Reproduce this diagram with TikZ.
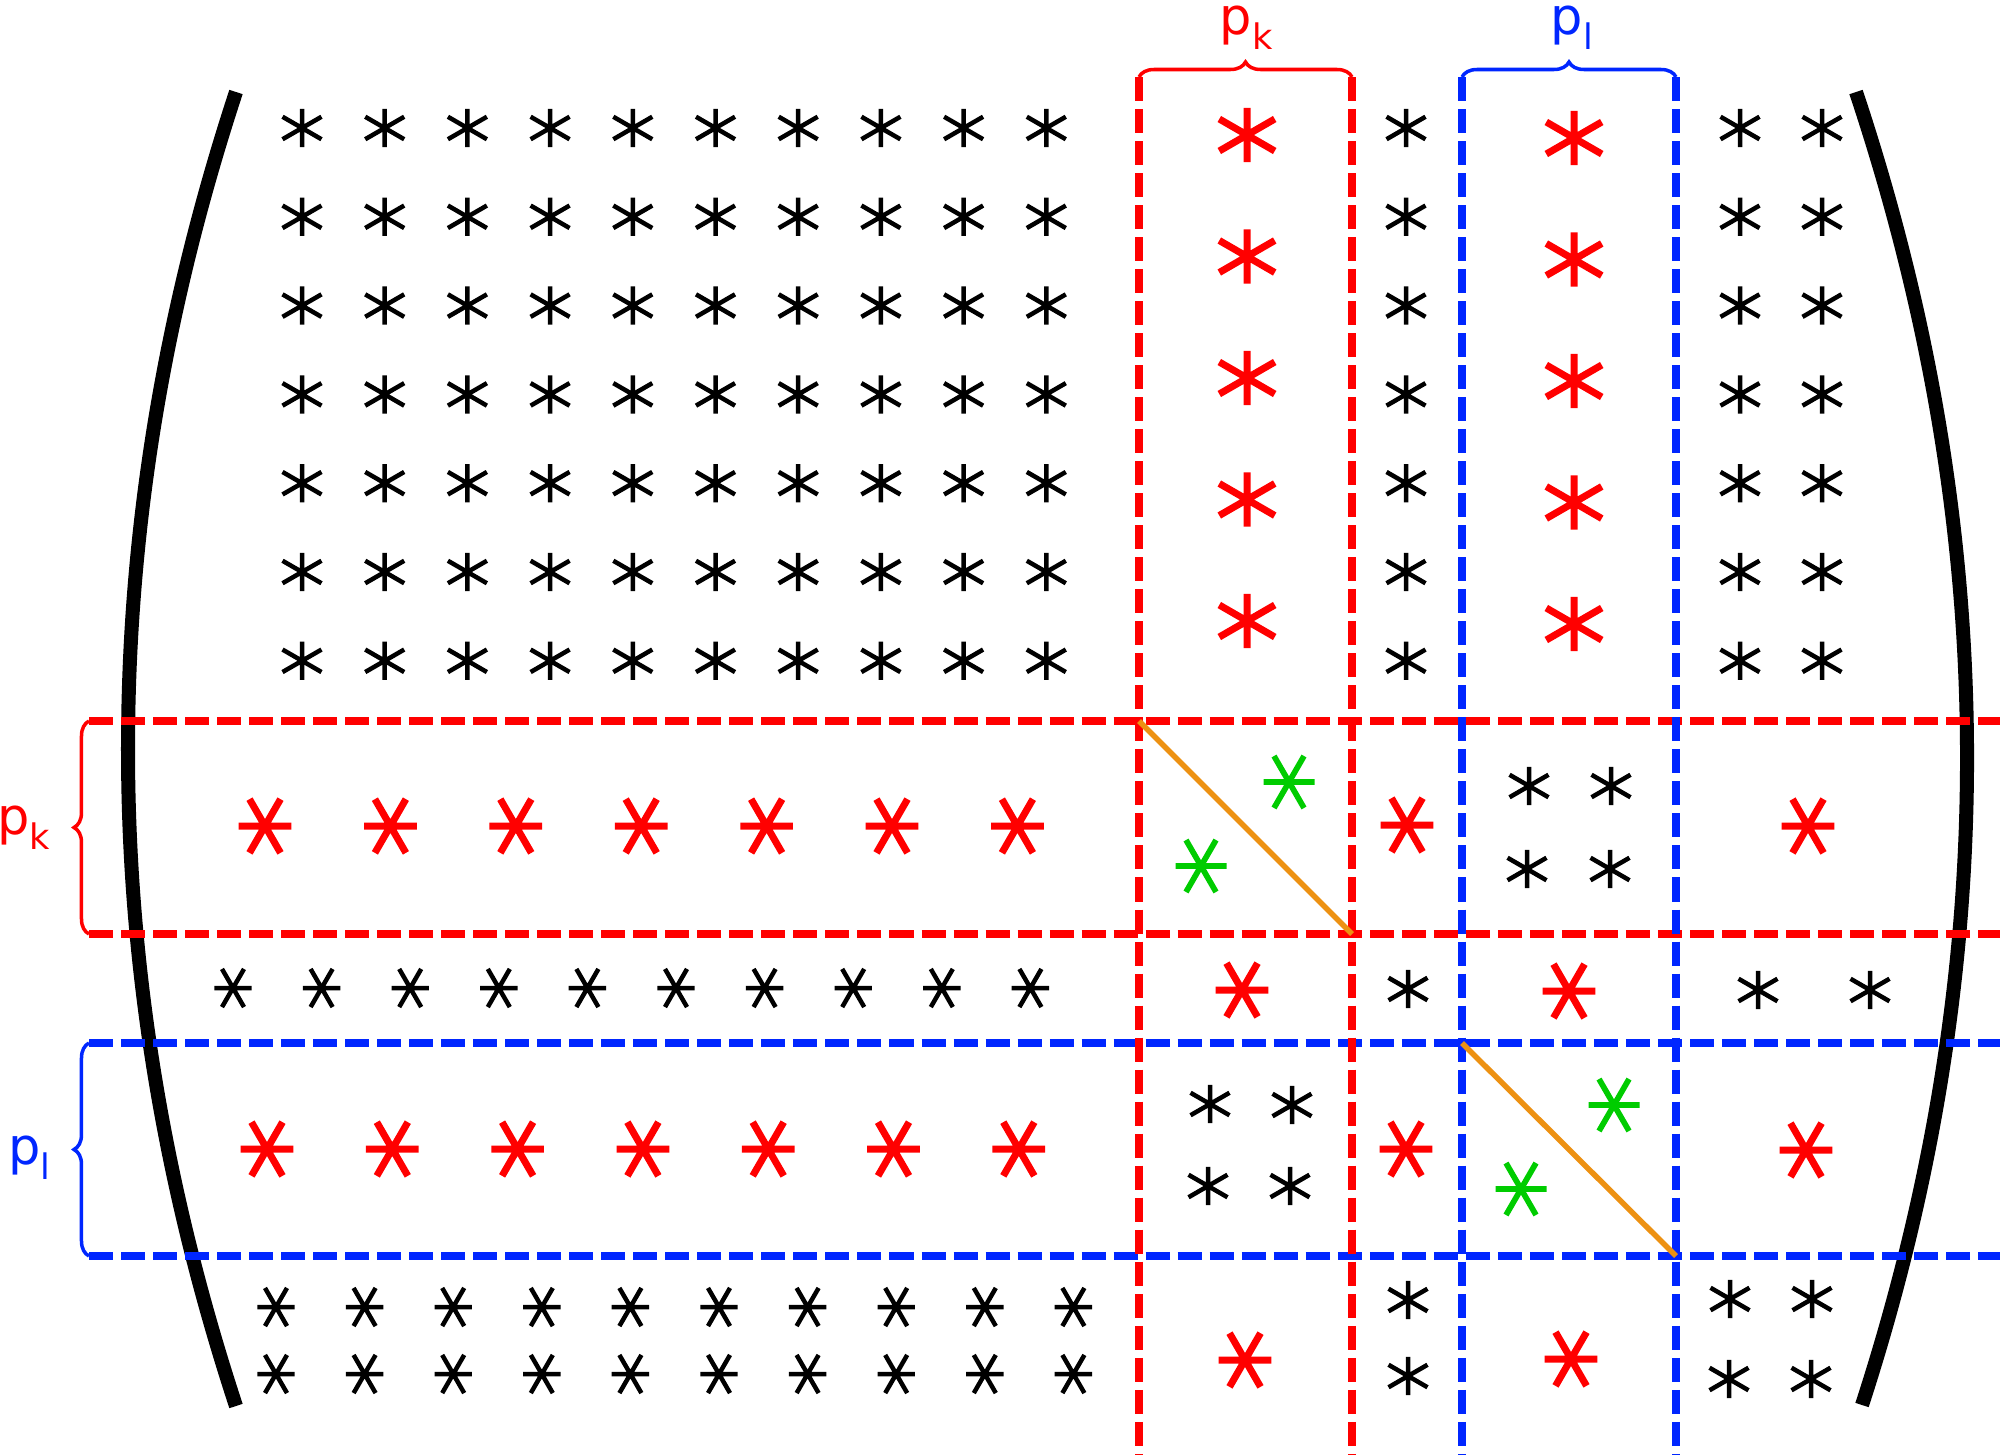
\documentclass[tikz,border=0pt]{standalone}
\usepackage{fontspec}
\setmainfont{DejaVu Sans}
\usetikzlibrary{decorations.pathreplacing}

\definecolor{pkred}{RGB}{255,0,0}
\definecolor{plblue}{RGB}{0,38,255}
\definecolor{pivgreen}{RGB}{0,204,0}
\definecolor{diagorange}{RGB}{237,145,18}

\newcommand{\lowsub}[1]{\raisebox{-0.3em}{\fontsize{10}{12}\selectfont #1}}

\tikzset{
  pics/ast/.style={code={
    \draw[pic actions] (90:{0.85*#1}) -- (270:{0.85*#1})
      (30:#1) -- (210:#1) (150:#1) -- (330:#1);
  }},
  blk/.style={black, line width=0.045cm},
  rd/.style={pkred, line width=0.07cm},
  grn/.style={pivgreen, line width=0.057cm},
  flat/.style={rotate=90},
  redline/.style={pkred, line width=0.075cm, dash pattern=on 0.24cm off 0.08cm},
  blueline/.style={plblue, line width=0.075cm, dash pattern=on 0.24cm off 0.08cm},
  bracket/.style={line width=0.14cm},
  diagline/.style={diagorange, line width=0.055cm},
  redbrace/.style={pkred, line width=0.035cm, decorate, decoration={brace, amplitude=0.15cm}},
  bluebrace/.style={plblue, line width=0.035cm, decorate, decoration={brace, amplitude=0.15cm}},
  lab/.style={inner sep=0pt, font=\fontsize{14.5}{17}\selectfont},
}

\begin{document}
\begin{tikzpicture}[x=0.01cm, y=-0.01cm]
    \useasboundingbox (0,0) rectangle (2000,1454);

    % Pivot blocks and line ends
    \coordinate (pk-nw) at (1139,721);
    \coordinate (pk-se) at (1352,934);
    \coordinate (pl-nw) at (1462,1043);
    \coordinate (pl-se) at (1676,1256);
    \coordinate (edge-t) at (0,77);
    \coordinate (edge-b) at (0,1454);
    \coordinate (edge-l) at (89,0);
    \coordinate (edge-r) at (2000,0);

    % Matrix brackets
    \draw[bracket] (236,92) .. controls (92,530) and (92,968) .. (236,1406);
    \draw[bracket] (1856,92) .. controls (2002,530) and (2004,968) .. (1862,1405);

    % Pivot rows and columns
    \draw[redline] (edge-l |- pk-nw) -- (edge-r |- pk-nw);
    \draw[redline] (edge-l |- pk-se) -- (edge-r |- pk-se);
    \draw[blueline] (edge-l |- pl-nw) -- (edge-r |- pl-nw);
    \draw[blueline] (edge-l |- pl-se) -- (edge-r |- pl-se);
    \draw[redline] (pk-nw |- edge-t) -- (pk-nw |- edge-b);
    \draw[redline] (pk-se |- edge-t) -- (pk-se |- edge-b);
    \draw[blueline] (pl-nw |- edge-t) -- (pl-nw |- edge-b);
    \draw[blueline] (pl-se |- edge-t) -- (pl-se |- edge-b);

    % Diagonals
    \draw[diagline] (pk-nw) -- (pk-se);
    \draw[diagline] (pl-nw) -- (pl-se);

    % Braces and labels
    \draw[redbrace] (pk-nw |- edge-t) -- (pk-se |- edge-t);
    \draw[bluebrace] (pl-nw |- edge-t) -- (pl-se |- edge-t);
    \draw[redbrace] (edge-l |- pk-se) -- (edge-l |- pk-nw);
    \draw[bluebrace] (edge-l |- pl-se) -- (edge-l |- pl-nw);
    \node[lab, pkred, anchor=base] (pk-top) at (1246,34) {p\lowsub{k}};
    \node[lab, plblue, anchor=base] (pl-top) at (1572,34) {p\lowsub{l}};
    \node[lab, pkred, anchor=base east] (pk-left) at (51,834) {p\lowsub{k}};
    \node[lab, plblue, anchor=base east] (pl-left) at (51,1164) {p\lowsub{l}};

    % Upper rows
    \foreach \j in {0,...,6} {
        \foreach \i in {0,...,9}
            \pic[blk] at ({302+82.7*\i},{128+88.8*\j}) {ast=22.5};
        \pic[blk] at (1406,{128+88.8*\j}) {ast=22.5};
        \pic[blk] at (1740,{128+88.8*\j}) {ast=22.5};
        \pic[blk] at (1822,{128+88.8*\j}) {ast=22.5};
    }
    \foreach \j in {0,...,4} {
        \pic[rd] at (1247,{135+121.5*\j}) {ast=32};
        \pic[rd] at (1574,{138+121.5*\j}) {ast=32};
    }

    % Pivot row k
    \foreach \i in {0,...,6}
        \pic[rd, flat] at ({265+125.4*\i},826) {ast=31};
    \pic[grn, flat] at (1289,782) {ast=30};
    \pic[grn, flat] at (1201,866) {ast=30};
    \pic[rd, flat] at (1407,825) {ast=31};
    \foreach \x/\y in {1529/786, 1611/786, 1527/869, 1610/869}
        \pic[blk] at (\x,\y) {ast=22.5};
    \pic[rd, flat] at (1808,826) {ast=31};

    % Middle row
    \foreach \i in {0,...,9}
        \pic[blk, flat] at ({233+88.6*\i},988) {ast=22};
    \pic[rd, flat] at (1242,990) {ast=31};
    \pic[blk] at (1408,989) {ast=22.5};
    \pic[rd, flat] at (1569,991) {ast=31};
    \pic[blk] at (1758,990) {ast=22.5};
    \pic[blk] at (1870,990) {ast=22.5};

    % Pivot row l
    \foreach \i in {0,...,6}
        \pic[rd, flat] at ({267+125.3*\i},1149) {ast=31};
    \foreach \x/\y in {1210/1104, 1292/1105, 1208/1186, 1290/1186}
        \pic[blk] at (\x,\y) {ast=22.5};
    \pic[rd, flat] at (1406,1149) {ast=31};
    \pic[grn, flat] at (1614,1105) {ast=30};
    \pic[grn, flat] at (1521,1189) {ast=30};
    \pic[rd, flat] at (1806,1150) {ast=31};

    % Lower rows
    \foreach \y in {1307,1374}
        \foreach \i in {0,...,9}
            \pic[blk, flat] at ({276+88.6*\i},\y) {ast=22};
    \pic[rd, flat] at (1245,1360) {ast=31};
    \pic[rd, flat] at (1571,1359) {ast=31};
    \foreach \x/\y in {1408/1300, 1408/1376, 1730/1299, 1812/1299, 1729/1379, 1811/1379}
        \pic[blk] at (\x,\y) {ast=22.5};
\end{tikzpicture}
\end{document}
